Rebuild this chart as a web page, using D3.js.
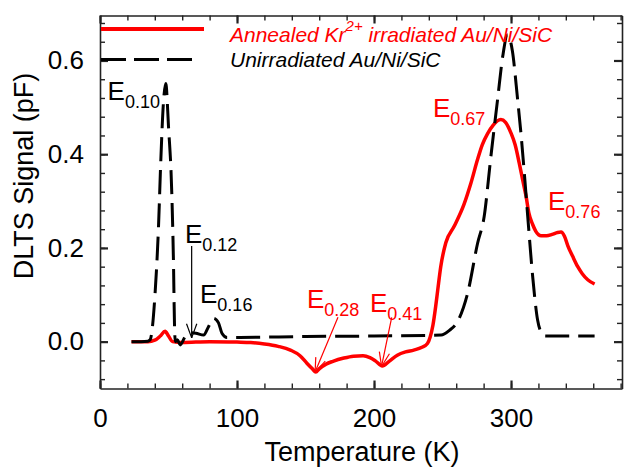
<!DOCTYPE html>
<html>
<head>
<meta charset="utf-8">
<script src="https://cdn.jsdelivr.net/npm/d3@7"></script>
<style>
  html, body { margin: 0; padding: 0; background: #fff; }
  svg { display: block; font-family: "Liberation Sans", Arial, sans-serif; }
</style>
</head>
<body>
<svg id="chart" width="627" height="469"></svg>
<script>
// Unirradiated Au/Ni/SiC (black dashed)
const unirrT = [23, 30, 35, 36.6, 40.2, 42.7, 44.4, 46.3, 48, 50, 52.4, 53.6, 54.4, 55, 56.5, 58.5, 62.2, 65.8, 70, 75.6, 79.2, 82.9, 86.5, 89, 92.7, 102, 150, 200, 249, 255, 261, 268.3, 275.6, 280.4, 285.3, 290.2, 294, 297.5, 301, 304.8, 307.2, 309.7, 312.2, 315.8, 319.4, 322, 325, 340, 361];
const unirrV = [0, 0, 0.001, 0.004, 0.103, 0.245, 0.388, 0.51, 0.551, 0.459, 0.317, 0.174, 0.032, 0.0, 0.004, -0.007, 0.011, 0.019, 0.018, 0.014, 0.032, 0.05, 0.04, 0.018, 0.009, 0.009, 0.011, 0.012, 0.014, 0.024, 0.043, 0.103, 0.21, 0.267, 0.395, 0.517, 0.61, 0.655, 0.62, 0.517, 0.446, 0.36, 0.267, 0.139, 0.046, 0.02, 0.012, 0.012, 0.012];

// Annealed Kr2+ irradiated Au/Ni/SiC (red solid)
const annealT = [23, 35, 40, 44, 47.5, 50, 53, 60, 80, 100, 110, 120, 130, 139, 146, 151, 155, 157.5, 160, 165, 170, 178, 185, 192, 197, 201, 206, 211, 217, 223, 229, 235, 239, 241, 243, 245, 246.5, 248.7, 252.4, 258.5, 265.8, 270.7, 275.5, 279, 282.9, 287, 290, 292.6, 296, 300, 303, 306, 308.5, 311, 313, 315.8, 318, 322, 326, 330, 334, 336.5, 339, 341.4, 345, 348.7, 352, 356, 361];
const annealV = [0, 0, 0.003, 0.012, 0.022, 0.012, 0.0, -0.002, 0, -0.001, -0.002, -0.005, -0.01, -0.018, -0.03, -0.046, -0.058, -0.065, -0.058, -0.048, -0.042, -0.035, -0.031, -0.03, -0.034, -0.041, -0.052, -0.042, -0.029, -0.022, -0.018, -0.012, -0.004, 0.01, 0.035, 0.075, 0.11, 0.16, 0.211, 0.246, 0.294, 0.338, 0.388, 0.42, 0.444, 0.462, 0.471, 0.474, 0.468, 0.445, 0.42, 0.381, 0.345, 0.31, 0.275, 0.25, 0.236, 0.226, 0.226, 0.229, 0.233, 0.234, 0.225, 0.205, 0.182, 0.16, 0.145, 0.132, 0.123];

// tick values
const xMajor = [0, 100, 200, 300];
const xMinor = d3.range(0, 381, 20);
const yMajor = [0.0, 0.2, 0.4, 0.6];
const yMinor = d3.range(-0.08, 0.69, 0.04);

// peak labels: [name, T, value, colour]
const peakLabels = [
  ["0.10", 5.5, 0.516, "#000"],
  ["0.12", 62, 0.21, "#000"],
  ["0.16", 73, 0.082, "#000"],
  ["0.28", 151, 0.072, "#ff0000"],
  ["0.41", 197, 0.064, "#ff0000"],
  ["0.67", 243, 0.48, "#ff0000"],
  ["0.76", 327, 0.281, "#ff0000"]
];
// arrows: [T1, v1, T2, v2, colour]
const arrows = [
  [66.9, 0.204, 66.9, 0.008, "#000"],
  [173.7, 0.052, 157, -0.065, "#ff0000"],
  [212.9, 0.052, 205.5, -0.053, "#ff0000"]
];

const svg = d3.select('#chart');

const x = d3.scaleLinear().domain([0, 381]).range([100, 622]);
const y = d3.scaleLinear().domain([-0.1, 0.696]).range([388.5, 15.5]);

// axes: major + minor ticks, all inward
function drawAxis(axisFn, scale, transform, major, minor, labels) {
  svg.append("g")
    .attr("transform", transform)
    .call(axisFn(scale).tickValues(minor).tickSize(-5).tickFormat(""))
    .call(g => g.select(".domain").remove())
    .selectAll("line").attr("stroke", "#222").attr("stroke-width", 1.4);
  const g = svg.append("g")
    .attr("transform", transform)
    .call(axisFn(scale).tickValues(major).tickSizeInner(-8).tickSizeOuter(0)
      .tickPadding(labels ? 16 : 0)
      .tickFormat(labels ? labels : ""));
  g.select(".domain").attr("stroke", "#222").attr("stroke-width", 1.6);
  g.selectAll("line").attr("stroke", "#222").attr("stroke-width", 2.2);
  g.selectAll("text").style("font-size", "26px").attr("fill", "#000");
  return g;
}

const xb = drawAxis(d3.axisBottom, x, "translate(0,388.5)", xMajor, xMinor, d3.format("d"));
xb.selectAll("text").attr("y", 20);
drawAxis(d3.axisTop, x, "translate(0,15.5)", xMajor, xMinor, null);
drawAxis(d3.axisLeft, y, "translate(100,0)", yMajor, yMinor, d3.format(".1f"));
drawAxis(d3.axisRight, y, "translate(622,0)", yMajor, yMinor, null);

// axis titles
svg.append("text")
  .attr("x", 362).attr("y", 461)
  .attr("text-anchor", "middle")
  .style("font-size", "27px")
  .text("Temperature (K)");

svg.append("text")
  .attr("transform", "translate(33,176) rotate(-90)")
  .attr("text-anchor", "middle")
  .style("font-size", "27px")
  .text("DLTS Signal (pF)");

// curves
const line = d3.line()
  .x(d => x(d[0]))
  .y(d => y(d[1]))
  .curve(d3.curveMonotoneX);

svg.append("path")
  .datum(d3.zip(annealT, annealV))
  .attr("fill", "none")
  .attr("stroke", "#ff0000")
  .attr("stroke-width", 3.5)
  .attr("stroke-linejoin", "round")
  .attr("d", line);

svg.append("path")
  .datum(d3.zip(unirrT, unirrV))
  .attr("fill", "none")
  .attr("stroke", "#000")
  .attr("stroke-width", 3)
  .attr("stroke-dasharray", "24,9")
  .attr("d", line);

// legend
svg.append("line")
  .attr("x1", 101).attr("x2", 204).attr("y1", 29).attr("y2", 29)
  .attr("stroke", "#ff0000").attr("stroke-width", 4);
svg.append("line")
  .attr("x1", 101).attr("x2", 194).attr("y1", 59.5).attr("y2", 59.5)
  .attr("stroke", "#000").attr("stroke-width", 3.2)
  .attr("stroke-dasharray", "25,8");

const leg1 = svg.append("text")
  .attr("x", 230).attr("y", 41.5)
  .attr("fill", "#ff0000")
  .style("font-size", "21px").style("font-style", "italic");
leg1.append("tspan").text("Annealed Kr");
leg1.append("tspan").attr("dy", -11).style("font-size", "15px").text("2+");
leg1.append("tspan").attr("dy", 11).text(" irradiated Au/Ni/SiC");

svg.append("text")
  .attr("x", 230).attr("y", 67)
  .attr("fill", "#000")
  .style("font-size", "21px").style("font-style", "italic")
  .text("Unirradiated Au/Ni/SiC");

// peak labels
peakLabels.forEach(([name, t, v, c]) => {
  const txt = svg.append("text")
    .attr("x", x(t)).attr("y", y(v))
    .attr("fill", c)
    .style("font-size", "26px");
  txt.append("tspan").text("E");
  txt.append("tspan").attr("dy", 8).style("font-size", "18px").text(name);
});

// arrows with open heads
arrows.forEach(([t1, v1, t2, v2, c]) => {
  const x1 = x(t1), y1 = y(v1), x2 = x(t2), y2 = y(v2);
  const ang = Math.atan2(y2 - y1, x2 - x1);
  const len = 15, spread = 0.35;
  const g = svg.append("g").attr("stroke", c).attr("stroke-width", 1.2).attr("fill", "none");
  g.append("line").attr("x1", x1).attr("y1", y1).attr("x2", x2).attr("y2", y2);
  [-spread, spread].forEach(s => {
    g.append("line")
      .attr("x1", x2).attr("y1", y2)
      .attr("x2", x2 - len * Math.cos(ang + s))
      .attr("y2", y2 - len * Math.sin(ang + s));
  });
});
</script>
</body>
</html>
